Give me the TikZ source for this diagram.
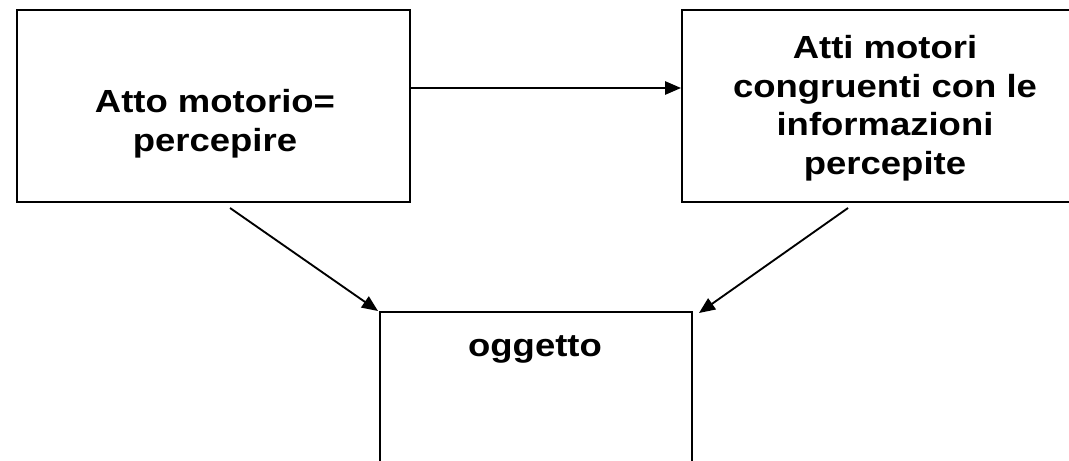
\documentclass[tikz,border=0pt]{standalone}
\usepackage{fontspec}
\setmainfont{Liberation Sans}
\newfontfamily\lblfont{Liberation Sans}[FakeStretch=1.14]
\usetikzlibrary{arrows.meta}
\begin{document}
\begin{tikzpicture}[x=0.75pt,y=-0.75pt,
  box/.style={draw=black,line width=1.5pt,rectangle,inner sep=0pt},
  lbl/.style={inner sep=0pt,align=center,font=\lblfont\bfseries\fontsize{24}{29}\selectfont},
  arr/.style={draw=black,line width=1.4pt,-{Triangle[length=12pt,width=10pt]}}]
\useasboundingbox (0,0) rectangle (1069,460);
\clip (0,0) rectangle (1069,460);
\fill[white] (0,0) rectangle (1069,460);
\node[box,minimum width=294.75pt,minimum height=144pt] (L) at (213.5,106) {};
\node[box,minimum width=304.5pt,minimum height=144pt] (R) at (885,106) {};
\node[box,minimum width=234pt,minimum height=126pt] (B) at (536,396) {};
\node[lbl,anchor=north] (Lt) at (215,89) {Atto motorio=\\percepire};
\node[lbl,anchor=north] (Rt) at (885,35) {Atti motori\\congruenti con le\\informazioni\\percepite};
\node[lbl,anchor=base] (Bt) at (535,356) {oggetto};
\draw[arr] ([yshift=13.5pt]L.east) -- ([yshift=13.5pt]R.west);
\draw[arr] ([shift={(12.4pt,-3.75pt)}]L.south) -- ([shift={(-0.75pt,0pt)}]B.north west);
\draw[arr] ([shift={(-27.75pt,-3.75pt)}]R.south) -- ([shift={(4.5pt,-1.5pt)}]B.north east);
\end{tikzpicture}
\end{document}
